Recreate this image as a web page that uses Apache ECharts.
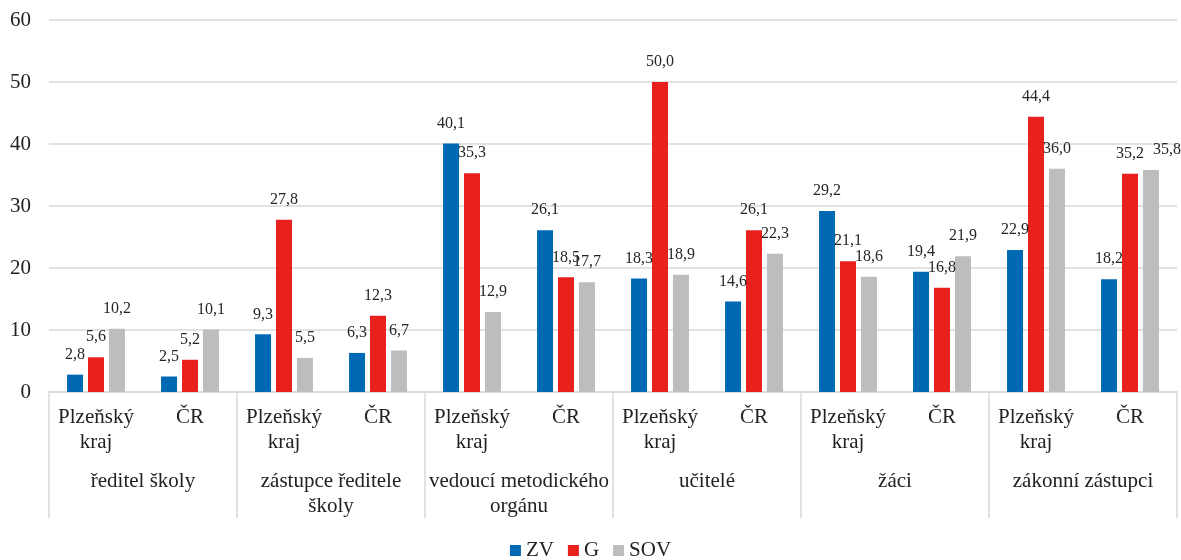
<!DOCTYPE html>
<html><head><meta charset="utf-8">
<script src="https://cdn.jsdelivr.net/npm/echarts@6/dist/echarts.min.js"></script>
<style>html,body{margin:0;padding:0;background:#fff}#c{width:1181px;height:560px}</style>
</head><body><div id="c"></div>
<script>
const categories = ['Plzeňský\nkraj','ČR','Plzeňský\nkraj','ČR','Plzeňský\nkraj','ČR','Plzeňský\nkraj','ČR','Plzeňský\nkraj','ČR','Plzeňský\nkraj','ČR'];
const groups = ['ředitel školy','zástupce ředitele\nškoly','vedoucí metodického\norgánu','učitelé','žáci','zákonní zástupci'];
const seriesNames = ['ZV','G','SOV'];
const zv  = [2.8, 2.5, 9.3, 6.3, 40.1, 26.1, 18.3, 14.6, 29.2, 19.4, 22.9, 18.2];
const g   = [5.6, 5.2, 27.8, 12.3, 35.3, 18.5, 50.0, 26.1, 21.1, 16.8, 44.4, 35.2];
const sov = [10.2, 10.1, 5.5, 6.7, 12.9, 17.7, 18.9, 22.3, 18.6, 21.9, 36.0, 35.8];
const colors = ['#0069b4','#e8211f','#bdbdbd'];
const font = "'Liberation Serif', 'Times New Roman', serif";
const fmt = p => p.value.toFixed(1).replace('.', ',');
const mk = (name, data, i, shifts) => ({
  name, type:'bar', xAxisIndex:0, barWidth:16, barGap:'31%',
  data: data.map((v, k) => shifts && shifts[k] ? {value:v, label:{offset:shifts[k]}} : v),
  itemStyle:{color:colors[i]},
  label:{show:true, position:'top', distance:12, formatter:fmt, fontFamily:font, fontSize:16, color:'#262626'}
});
const chart = echarts.init(document.getElementById('c'));
chart.setOption({
  animation:false,
  grid:{left:49, right:4, top:20, bottom:168},
  legend:{data:seriesNames, top:535, left:'center', itemWidth:11, itemHeight:11, itemGap:14,
    icon:'rect', textStyle:{fontFamily:font, fontSize:21, color:'#222'}},
  xAxis:[
    {type:'category', data:categories, position:'bottom',
     axisLine:{show:true, lineStyle:{color:'#d9d9d9', width:1.5}},
     axisTick:{show:false},
     axisLabel:{interval:0, margin:13, fontFamily:font, fontSize:21, lineHeight:25, color:'#222'}},
    {type:'category', data:groups, position:'bottom', boundaryGap:true,
     axisLine:{show:false},
     axisTick:{show:true, length:126, lineStyle:{color:'#d9d9d9', width:1.5}},
     axisLabel:{interval:0, margin:77, fontFamily:font, fontSize:21, lineHeight:25, color:'#222'}}
  ],
  yAxis:{type:'value', min:0, max:60, interval:10,
    axisLine:{show:false}, axisTick:{show:false},
    splitLine:{lineStyle:{color:'#d9d9d9', width:1.5}},
    axisLabel:{margin:18, fontFamily:font, fontSize:21, color:'#222'}},
  series:[mk('ZV', zv, 0), mk('G', g, 1), mk('SOV', sov, 2, {11:[16,0]})]
});
</script></body></html>
